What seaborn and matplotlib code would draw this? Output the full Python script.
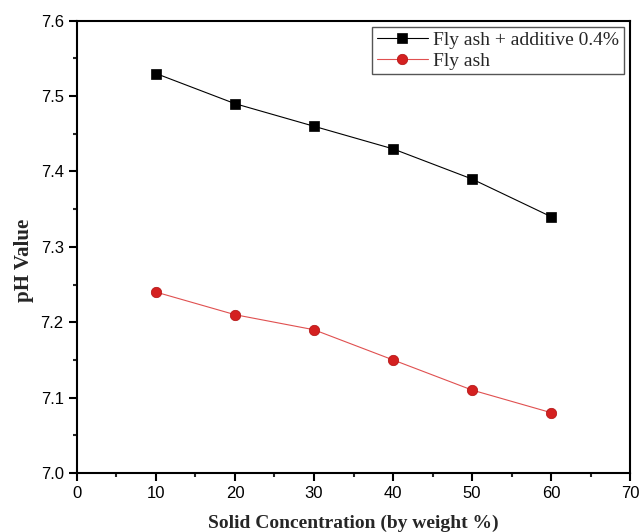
import numpy as np
import pandas as pd
import matplotlib
matplotlib.use('Agg')
import matplotlib.pyplot as plt
from matplotlib.ticker import MultipleLocator, FormatStrFormatter
import seaborn as sns

concentration = [10, 20, 30, 40, 50, 60]
ph_additive = [7.53, 7.49, 7.46, 7.43, 7.39, 7.34]
ph_flyash = [7.24, 7.21, 7.19, 7.15, 7.11, 7.08]
series_names = ['Fly ash + additive 0.4%', 'Fly ash']

df = pd.concat([
    pd.DataFrame({'conc': concentration, 'ph': ph_additive, 'series': series_names[0]}),
    pd.DataFrame({'conc': concentration, 'ph': ph_flyash, 'series': series_names[1]}),
])

sns.set_style('ticks')
plt.rcParams['font.family'] = ['Liberation Sans', 'DejaVu Sans']

fig = plt.figure(figsize=(6.41, 5.32), dpi=100)
ax = fig.add_axes([0.120, 0.111, 0.863, 0.850])

sns.lineplot(data=df, x='conc', y='ph', hue='series', style='series',
             palette={series_names[0]: 'black', series_names[1]: '#d42020'},
             markers={series_names[0]: 's', series_names[1]: 'o'},
             dashes=False, linewidth=0.8, markersize=7.5, markeredgewidth=0.5,
             ax=ax)

ax.set_xlim(0, 70)
ax.set_ylim(7.0, 7.6)
ax.xaxis.set_major_locator(MultipleLocator(10))
ax.xaxis.set_minor_locator(MultipleLocator(5))
ax.yaxis.set_major_locator(MultipleLocator(0.1))
ax.yaxis.set_minor_locator(MultipleLocator(0.05))
ax.yaxis.set_major_formatter(FormatStrFormatter('%.1f'))

ax.tick_params(which='major', direction='out', length=6, width=1.5, labelsize=12, colors='black')
ax.tick_params(which='minor', direction='out', length=3, width=1.5)
for s in ax.spines.values():
    s.set_linewidth(1.5)
    s.set_color('black')

ax.set_xlabel('Solid Concentration (by weight %)', fontsize=14, fontweight='bold',
              family=['Liberation Serif'], labelpad=10)
ax.set_ylabel('pH Value', fontsize=15, fontweight='bold', family=['Liberation Serif'], labelpad=6)
ax.yaxis.set_label_coords(-0.078, 0.47)

leg = ax.legend(loc='upper right', prop={'family': 'Liberation Serif', 'size': 14},
                frameon=True, fancybox=False, borderaxespad=0.3, handlelength=2.6,
                labelspacing=0.15, borderpad=0.25, handletextpad=0.3)
leg.get_frame().set_edgecolor('#555555')
leg.get_frame().set_linewidth(1.0)
leg.get_frame().set_alpha(1)

# the reference draws the red connecting line a bit lighter than its markers
for line in ax.lines + leg.get_lines():
    if line.get_color() == '#d42020':
        line.set_color('#e05050')
        line.set_markerfacecolor('#d42020')
        line.set_markeredgecolor('#b01010')
    else:
        line.set_markeredgecolor('black')

fig.savefig('out.png', dpi=100)
